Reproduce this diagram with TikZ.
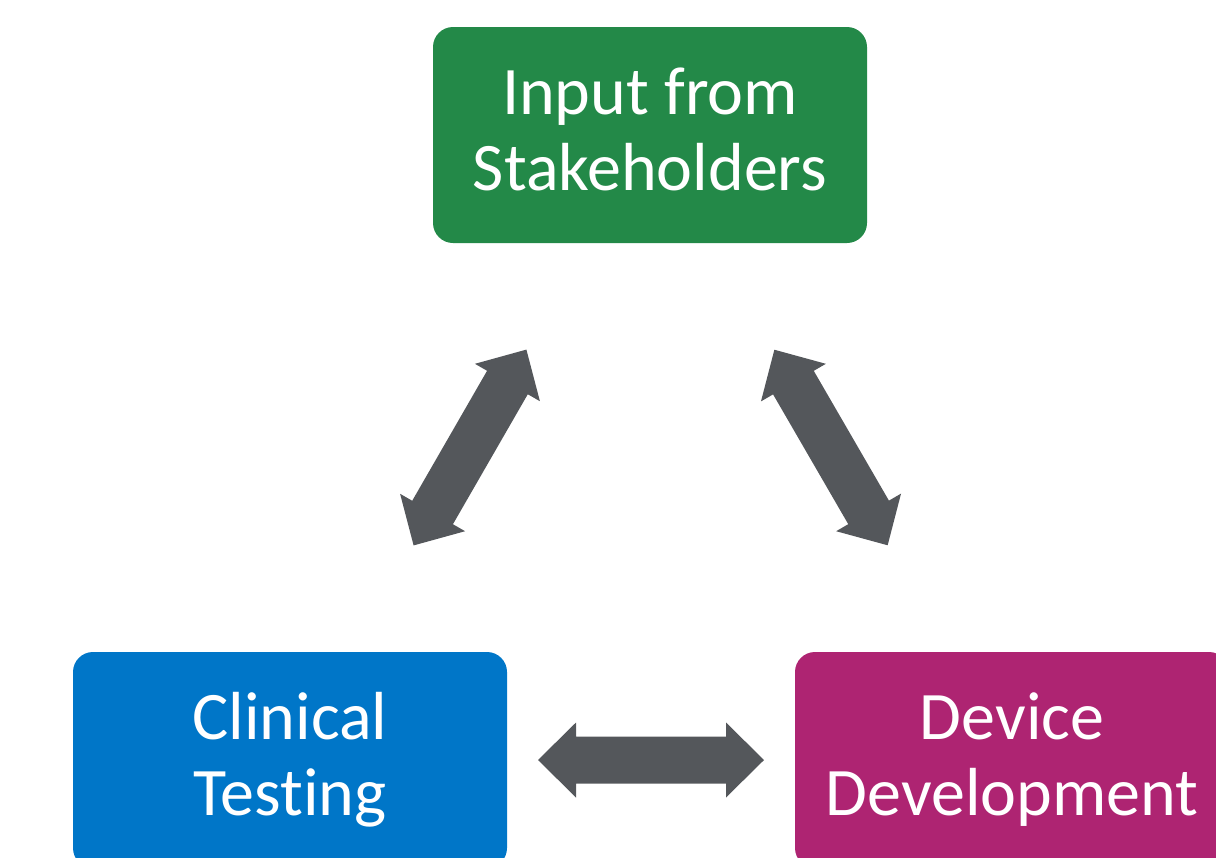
\documentclass[tikz,border=0pt]{standalone}
\usepackage{fontspec}
\setmainfont{Carlito}[Ligatures=NoCommon]
\usetikzlibrary{calc}

\definecolor{stakegreen}{RGB}{35,137,72}
\definecolor{clinblue}{RGB}{0,118,200}
\definecolor{devmagenta}{RGB}{174,36,114}
\definecolor{linkgray}{RGB}{84,87,91}

\tikzset{
  stagebox/.style={rounded corners=15pt, minimum width=325.5pt, minimum height=162pt,
    inner sep=0pt, text=white, align=center, font=\fontsize{51}{57}\selectfont,
    execute at end node=\vphantom{g}},
}

% point on the axis between two nodes: #3 along it (from the midpoint), #4 across it
\newcommand{\linkpt}[4]{($(#1)!0.5!(#2)!#3!(#2)!#4!90:(#2)$)}
% double block arrow centred between two nodes
\newcommand{\linkarrow}[2]{%
  \fill[linkgray] \linkpt{#1}{#2}{84.75pt}{0pt}
    -- \linkpt{#1}{#2}{56.25pt}{28.125pt} -- \linkpt{#1}{#2}{56.25pt}{17.625pt}
    -- \linkpt{#1}{#2}{-56.25pt}{17.625pt} -- \linkpt{#1}{#2}{-56.25pt}{28.125pt}
    -- \linkpt{#1}{#2}{-84.75pt}{0pt}
    -- \linkpt{#1}{#2}{-56.25pt}{-28.125pt} -- \linkpt{#1}{#2}{-56.25pt}{-17.625pt}
    -- \linkpt{#1}{#2}{56.25pt}{-17.625pt} -- \linkpt{#1}{#2}{56.25pt}{-28.125pt}
    -- cycle;}

\begin{document}
\begin{tikzpicture}[x=0.75pt,y=0.75pt,yscale=-1,xscale=1]
\useasboundingbox (0,0) rectangle (1216,857);
\clip (0,0) rectangle (1216,857);

%Shape: Rounded Rect
\node[stagebox, fill=stakegreen] (input) at (650,135) {Input from\\Stakeholders};
%Shape: Rounded Rect
\node[stagebox, fill=clinblue] (clinical) at (290,760) {Clinical\\Testing};
%Shape: Rounded Rect
\node[stagebox, fill=devmagenta] (device) at (1012,760) {Device\\Development};

%Shape: Left-Right Arrow
\linkarrow{clinical}{input}
\linkarrow{input}{device}
\linkarrow{clinical}{device}

\end{tikzpicture}
\end{document}
